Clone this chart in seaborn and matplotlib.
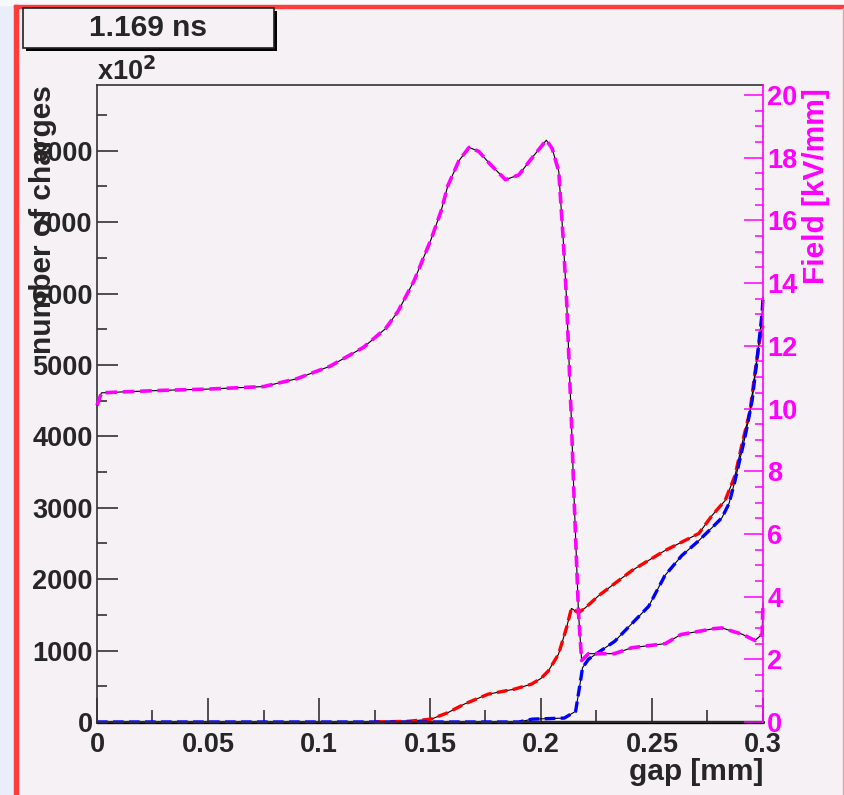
import matplotlib
matplotlib.use("Agg")
import numpy as np
import matplotlib.pyplot as plt
import seaborn as sns
from matplotlib.patches import Rectangle
from matplotlib.ticker import MultipleLocator

# charge profile and field across the gap at t = 1.169 ns

field_x = [0.0, 0.002, 0.015, 0.03, 0.05, 0.075, 0.09, 0.105, 0.12, 0.13, 0.1356, 0.1428,
           0.1505, 0.155, 0.158, 0.163, 0.1676, 0.172, 0.177, 0.184, 0.19, 0.196, 0.2024,
           0.205, 0.208, 0.210, 0.2115, 0.2137, 0.2146, 0.2169, 0.2183, 0.2214, 0.233,
           0.241, 0.256, 0.263, 0.278, 0.2815, 0.2906, 0.2964, 0.2996, 0.3]
field_kv = [10.1, 10.5, 10.54, 10.58, 10.62, 10.7, 10.95, 11.35, 11.95, 12.55, 13.1, 14.07,
            15.4, 16.3, 17.1, 17.9, 18.33, 18.2, 17.8, 17.3, 17.45, 18.0, 18.56,
            18.3, 17.56, 15.4, 13.5, 9.6, 7.7, 3.46, 1.96, 2.18, 2.18,
            2.37, 2.5, 2.79, 2.98, 3.0, 2.8, 2.6, 2.8, 3.8]

red_x = [0.125, 0.14, 0.1505, 0.158, 0.1654, 0.1762, 0.188, 0.1957, 0.2, 0.2033, 0.2079,
         0.2115, 0.2137, 0.2169, 0.22, 0.226, 0.2409, 0.2558, 0.2711, 0.277, 0.2829,
         0.2874, 0.2906, 0.2942, 0.2964, 0.2987, 0.3]
red_n = [0, 10, 40, 130, 250, 390, 460, 530, 610, 715, 950,
         1320, 1590, 1530, 1600, 1770, 2120, 2400, 2640, 2890, 3100,
         3450, 3900, 4360, 4900, 5390, 5550]

blue_x = [0.0, 0.19, 0.196, 0.2105, 0.2156, 0.2178, 0.2187, 0.2214, 0.2332, 0.2485, 0.2558,
          0.2634, 0.2711, 0.277, 0.2815, 0.2847, 0.2874, 0.2919, 0.2951, 0.2973, 0.2996, 0.3]
blue_n = [0, 0, 40, 55, 150, 575, 760, 880, 1130, 1620, 2050,
          2330, 2540, 2720, 2860, 3060, 3380, 3990, 4500, 5070, 5730, 5950]

base_x = [0.0, 0.3]
base_n = [0, 0]

x_ticks = [0, 0.05, 0.1, 0.15, 0.2, 0.25, 0.3]
x_ticklabels = ["0", "0.05", "0.1", "0.15", "0.2", "0.25", "0.3"]

sns.set_theme(style="ticks")
plt.rcParams['font.family'] = ['Liberation Sans', 'DejaVu Sans']
plt.rcParams['font.weight'] = 'bold'
plt.rcParams['lines.dashed_pattern'] = [3.2, 1.6]

bg = '#f6f1f5'
magenta = '#ff00ff'
W, H = 845, 795

def fx(px):
	return px / W

def fy(py):
	return 1 - py / H

fig = plt.figure(figsize=(8.45, 7.95), dpi=100, facecolor=bg)

# canvas decoration (outer strips, red border)
fig.add_artist(Rectangle((0, 0), fx(14), 1, transform=fig.transFigure, color='#e9eefb', zorder=0))
fig.add_artist(Rectangle((0, fy(5)), 1, 5 / H, transform=fig.transFigure, color='#f8f9fd', zorder=0))
fig.add_artist(Rectangle((fx(14), 0), 4 / W, fy(5), transform=fig.transFigure, color='#ff3b3b', zorder=1))
fig.add_artist(Rectangle((fx(14), fy(8)), 1, 3 / H, transform=fig.transFigure, color='#ff3b3b', zorder=1))
fig.add_artist(Rectangle((fx(843), 0), 2 / W, fy(8), transform=fig.transFigure, color='#d9a9b2', zorder=1))

ax = fig.add_axes([fx(97), fy(722), (763 - 97) / W, (722 - 85) / H])
ax.set_facecolor(bg)
ax2 = ax.twinx()

# counts on the left axis
sns.lineplot(x=base_x, y=base_n, ax=ax, color='black', linewidth=2.4)
sns.lineplot(x=red_x, y=red_n, ax=ax, color='black', linewidth=0.8)
sns.lineplot(x=red_x, y=red_n, ax=ax, color='red', linewidth=2.4, linestyle='--')
sns.lineplot(x=blue_x, y=blue_n, ax=ax, color='black', linewidth=0.8)
sns.lineplot(x=blue_x, y=blue_n, ax=ax, color='blue', linewidth=2.4, linestyle='--')

# field on the right axis
sns.lineplot(x=field_x, y=field_kv, ax=ax2, color='black', linewidth=0.8)
sns.lineplot(x=field_x, y=field_kv, ax=ax2, color=magenta, linewidth=2.6, linestyle='--')

for line in ax.lines + ax2.lines:
	line.set_clip_on(False)

ax.set_xlim(0, 0.3)
ax.set_ylim(0, 8920)
ax2.set_ylim(0, 20.32)

ax.set_xticks(x_ticks)
ax.set_xticklabels(x_ticklabels)
ax.xaxis.set_minor_locator(MultipleLocator(0.025))
ax.yaxis.set_major_locator(MultipleLocator(1000))
ax.yaxis.set_minor_locator(MultipleLocator(500))
ax2.yaxis.set_major_locator(MultipleLocator(2))
ax2.yaxis.set_minor_locator(MultipleLocator(0.5))

ax.set_xlabel('')
ax.set_ylabel('')
ax2.set_ylabel('')

fs = 19.5
ft = 21.5
ax.tick_params(axis='x', which='major', direction='in', length=17, width=1.1, pad=7,
               labelsize=fs, color='#222222')
ax.tick_params(axis='x', which='minor', direction='in', length=9, width=1.1, color='#222222')
ax.tick_params(axis='y', which='major', direction='in', length=15, width=1.1, pad=3,
               labelsize=fs, color='#222222')
ax.tick_params(axis='y', which='minor', direction='in', length=7, width=1.1, color='#222222')
ax2.tick_params(axis='y', which='major', direction='in', length=14, width=1.1, pad=3,
                labelsize=fs, color=magenta, labelcolor=magenta)
ax2.tick_params(axis='y', which='minor', direction='in', length=6, width=1.1, color=magenta)
for lab in ax.get_xticklabels() + ax.get_yticklabels() + ax2.get_yticklabels():
	lab.set_fontweight('bold')

for s in ['left', 'bottom', 'top']:
	ax.spines[s].set_color('#333333')
	ax.spines[s].set_linewidth(1.2)
ax.spines['right'].set_visible(False)
for s in ['left', 'bottom', 'top']:
	ax2.spines[s].set_visible(False)
ax2.spines['right'].set_color(magenta)
ax2.spines['right'].set_linewidth(1.2)

# axis titles and annotations (ROOT style: title overlaps the tick labels)
fig.text(fx(763), fy(772), 'gap [mm]', ha='right', va='center', fontsize=ft, fontweight='bold')
fig.text(fx(43), fy(85), 'number of charges', rotation=90, ha='center', va='top',
         fontsize=ft, fontweight='bold')
fig.text(fx(816), fy(88), 'Field [kV/mm]', rotation=90, ha='center', va='top',
         fontsize=ft, fontweight='bold', color=magenta)
fig.text(fx(97), fy(80), r'x10$^\mathbf{2}$', ha='left', va='baseline', fontsize=fs,
         fontweight='bold')

# time label box with shadow
fig.add_artist(Rectangle((fx(26), fy(51)), 251 / W, 40 / H, transform=fig.transFigure,
                         facecolor='black', edgecolor='none', zorder=2))
fig.add_artist(Rectangle((fx(23), fy(48)), 251 / W, 40 / H, transform=fig.transFigure,
                         facecolor=bg, edgecolor='#222222', linewidth=1.2, zorder=3))
fig.text(fx(148), fy(28), '1.169 ns', ha='center', va='center', fontsize=ft,
         fontweight='bold', zorder=4)

plt.savefig('out.png', dpi=100, facecolor=bg)
